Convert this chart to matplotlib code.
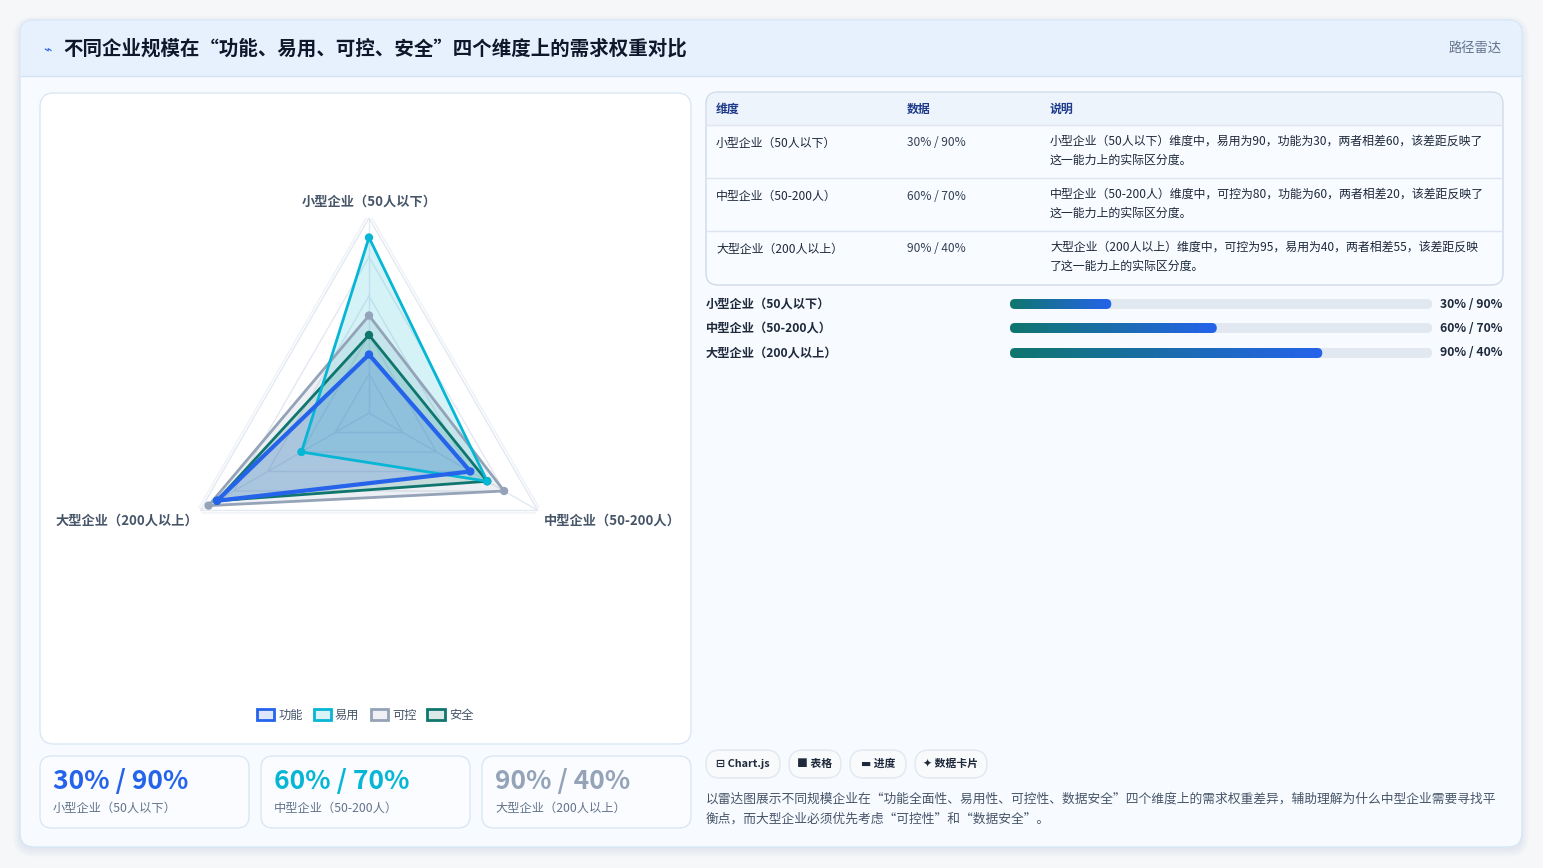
import matplotlib.pyplot as plt
import numpy as np
from matplotlib.patches import FancyBboxPatch, Patch
from matplotlib.colors import LinearSegmentedColormap, to_rgba

plt.rcParams['font.family'] = ['Noto Sans CJK SC', 'DejaVu Sans']

# ---- data ----
title = "不同企业规模在“功能、易用、可控、安全”四个维度上的需求权重对比"
badge = "路径雷达"
segments = ["小型企业（50人以下）", "中型企业（50-200人）", "大型企业（200人以上）"]
series_names = ["功能", "易用", "可控", "安全"]
func_vals = [30, 60, 90]
ease_vals = [90, 70, 40]
ctrl_vals = [50, 80, 95]
safe_vals = [40, 70, 90]
pair_labels = ["30% / 90%", "60% / 70%", "90% / 40%"]
progress = [24, 49, 74]
notes = [
    "小型企业（50人以下）维度中，易用为90，功能为30，两者相差60，该差距反映了\n这一能力上的实际区分度。",
    "中型企业（50-200人）维度中，可控为80，功能为60，两者相差20，该差距反映了\n这一能力上的实际区分度。",
    "大型企业（200人以上）维度中，可控为95，易用为40，两者相差55，该差距反映\n了这一能力上的实际区分度。",
]
table_head = ["维度", "数据", "说明"]
chips = ["⊟ Chart.js", "■ 表格", "▬ 进度", "✦ 数据卡片"]
footer = ("以雷达图展示不同规模企业在“功能全面性、易用性、可控性、数据安全”四个维度上的需求权重差异，辅助理解为什么中型企业需要寻找平\n"
          "衡点，而大型企业必须优先考虑“可控性”和“数据安全”。")

colors = ["#2563eb", "#06b6d4", "#94a3b8", "#0f766e"]

W, H = 1543, 868
fig = plt.figure(figsize=(W / 100, H / 100), dpi=100)
fig.patch.set_facecolor("#f6f7f9")

# background axes in pixel units for the page layout
bg = fig.add_axes([0, 0, 1, 1])
bg.set_xlim(0, W)
bg.set_ylim(H, 0)
bg.axis("off")


def rbox(x0, y0, x1, y1, r, fc, ec="none", lw=1, z=1, alpha=1):
    p = FancyBboxPatch((x0, y0), x1 - x0, y1 - y0,
                       boxstyle=f"round,pad=0,rounding_size={r}",
                       fc=fc, ec=ec, lw=lw, zorder=z, alpha=alpha)
    bg.add_patch(p)
    return p


# outer card with soft shadow
for i in range(8):
    rbox(20 - i, 20 - i + 3, 1522 + i, 847 + i + 3, 14 + i, "#8aa4c4", alpha=0.018, z=0)
rbox(20, 20, 1522, 847, 14, "#f7fbff", ec="#d6e6f5", z=1)
# header band
rbox(21, 21, 1521, 76, 13, "#e6f1fd", z=2)
bg.fill_between([21, 1521], 60, 76, color="#e6f1fd", zorder=2, lw=0)
bg.plot([21, 1521], [76, 76], color="#d4e4f4", lw=1, zorder=3)

bg.text(47, 49, "⌁", color="#2563eb", fontsize=10, ha="center", va="center", zorder=5)
bg.text(63, 49, title, color="#0f172a", fontsize=14, fontweight="bold", va="center", zorder=5)
bg.text(1502, 48, badge, color="#64748b", fontsize=9.5, ha="right", va="center", zorder=5)

# radar card
rbox(40, 93, 691, 744, 14, "white", ec="#dbe7f3", z=2)

# stat cards
card_x = [40, 261, 482]
for i, x in enumerate(card_x):
    rbox(x, 756, x + 209, 828, 12, "#fafcff", ec="#dbe7f3", z=2)
    bg.text(x + 13, 782, pair_labels[i], color=colors[i], fontsize=19, fontweight="heavy",
            va="center", zorder=5)
    bg.text(x + 13, 808, segments[i], color="#64748b", fontsize=8.8, va="center", zorder=5)

# table
rbox(706, 92, 1503, 285, 12, "#f8fbff", ec="#cfdbe8", z=2)
bg.fill_between([707, 1502], 100, 125, color="#eef4fc", zorder=2.5, lw=0)
hdr = FancyBboxPatch((707, 93), 795, 32, boxstyle="round,pad=0,rounding_size=11",
                     fc="#eef4fc", ec="none", zorder=2.5)
bg.add_patch(hdr)
col_x = [716, 907, 1050]
for cx, h in zip(col_x, table_head):
    bg.text(cx, 109, h, color="#1e3a8a", fontsize=8.6, fontweight="bold", va="center", zorder=5)
row_top = [125, 178, 231]
for i, y in enumerate(row_top):
    bg.plot([707, 1502], [y, y], color="#dde6f0", lw=1, zorder=3)
    bg.text(col_x[0], y + 18, segments[i], color="#1e293b", fontsize=8.6, fontweight="medium",
            va="center", zorder=5)
    bg.text(col_x[1], y + 18, pair_labels[i], color="#334155", fontsize=8.6, fontweight="medium",
            va="center", zorder=5)
    bg.text(col_x[2], y + 10, notes[i], color="#1e293b", fontsize=8.6, fontweight="medium",
            va="top", linespacing=1.55, zorder=5)

# progress rows
grad = np.linspace(0, 1, 256).reshape(1, -1)
cmap = LinearSegmentedColormap.from_list("tb", ["#0f766e", "#2563eb"])
bar_x0, bar_x1 = 1010, 1432
for i, yc in enumerate([304, 328, 353]):
    bg.text(706, yc, segments[i], color="#1e293b", fontsize=8.8, fontweight="bold", va="center", zorder=5)
    bg.text(1502, yc, pair_labels[i], color="#1e293b", fontsize=8.8, fontweight="bold",
            ha="right", va="center", zorder=5)
    rbox(bar_x0, yc - 5, bar_x1, yc + 5, 5, "#e2e8f0", z=3)
    xe = bar_x0 + (bar_x1 - bar_x0) * progress[i] / 100
    clip = rbox(bar_x0, yc - 5, xe, yc + 5, 5, "none", z=3)
    im = bg.imshow(grad, cmap=cmap, aspect="auto", extent=(bar_x0, xe, yc + 5, yc - 5), zorder=4)
    im.set_clip_path(clip)
bg.set_xlim(0, W)
bg.set_ylim(H, 0)

# chips
chip_span = [(706, 780), (789, 841), (850, 906), (915, 987)]
for (a, b), t in zip(chip_span, chips):
    rbox(a, 750, b, 778, 14, "#f8fafc", ec="#e2e8f0", z=3)
    bg.text((a + b) / 2, 764, t, color="#1e293b", fontsize=7.8, fontweight="bold",
            ha="center", va="center", zorder=5)

bg.text(706, 793, footer, color="#475569", fontsize=9.2, va="top", linespacing=1.65, zorder=5)

# ---- radar ----
cx, cy, R = 369, 413, 195
ax = fig.add_axes([(cx - R) / W, (H - cy - R) / H, 2 * R / W, 2 * R / H], projection="polar")
ax.set_facecolor("none")
ax.set_theta_offset(np.pi / 2)
ax.set_theta_direction(-1)
ax.set_ylim(0, 100)
ax.grid(False)
ax.spines["polar"].set_visible(False)
ax.set_xticks([])
ax.set_yticks([])

theta = np.linspace(0, 2 * np.pi, len(segments), endpoint=False)
tc = np.append(theta, theta[0])
for ring in [20, 40, 60, 80, 100]:
    ax.plot(tc, [ring] * len(tc), color="#e3e9f1", lw=1, zorder=1)
ax.plot(tc, [102.5] * len(tc), color="#eef2f7", lw=1, zorder=1)
for t in theta:
    ax.plot([t, t], [0, 100], color="#e3e9f1", lw=1, zorder=1)

all_vals = [func_vals, ease_vals, ctrl_vals, safe_vals]
widths = [3, 2, 2, 2]
for k in [2, 3, 1, 0]:
    v = np.append(all_vals[k], all_vals[k][0])
    ax.fill(tc, v, color=colors[k], alpha=0.17, zorder=2)
    ax.plot(tc, v, color=colors[k], lw=widths[k], zorder=3 + (k == 0))
    ax.scatter(theta, all_vals[k], s=36, color=colors[k], zorder=5, edgecolors="none")

# axis labels next to the triangle corners
label_off = [(0, 16), (6, -10), (-2, -10)]
label_ha = ["center", "left", "right"]
for t, lab, off, ha in zip(theta, segments, label_off, label_ha):
    ax.annotate(lab, xy=(t, 100), xytext=off, textcoords="offset pixels",
                ha=ha, va="center", fontsize=9.5, fontweight="bold",
                color="#475569", zorder=6, annotation_clip=False)

# legend
handles = [Patch(facecolor=to_rgba(c, 0.15), edgecolor=c, lw=2) for c in colors]
leg = fig.legend(handles, series_names, loc="center", bbox_to_anchor=(365 / W, 1 - 715 / H),
                 ncol=4, frameon=False, fontsize=8.8, handlelength=1.4, handleheight=1.0,
                 handletextpad=0.35, columnspacing=0.9)
for t in leg.get_texts():
    t.set_color("#475569")

fig.savefig("out.png", dpi=100, facecolor=fig.get_facecolor())
